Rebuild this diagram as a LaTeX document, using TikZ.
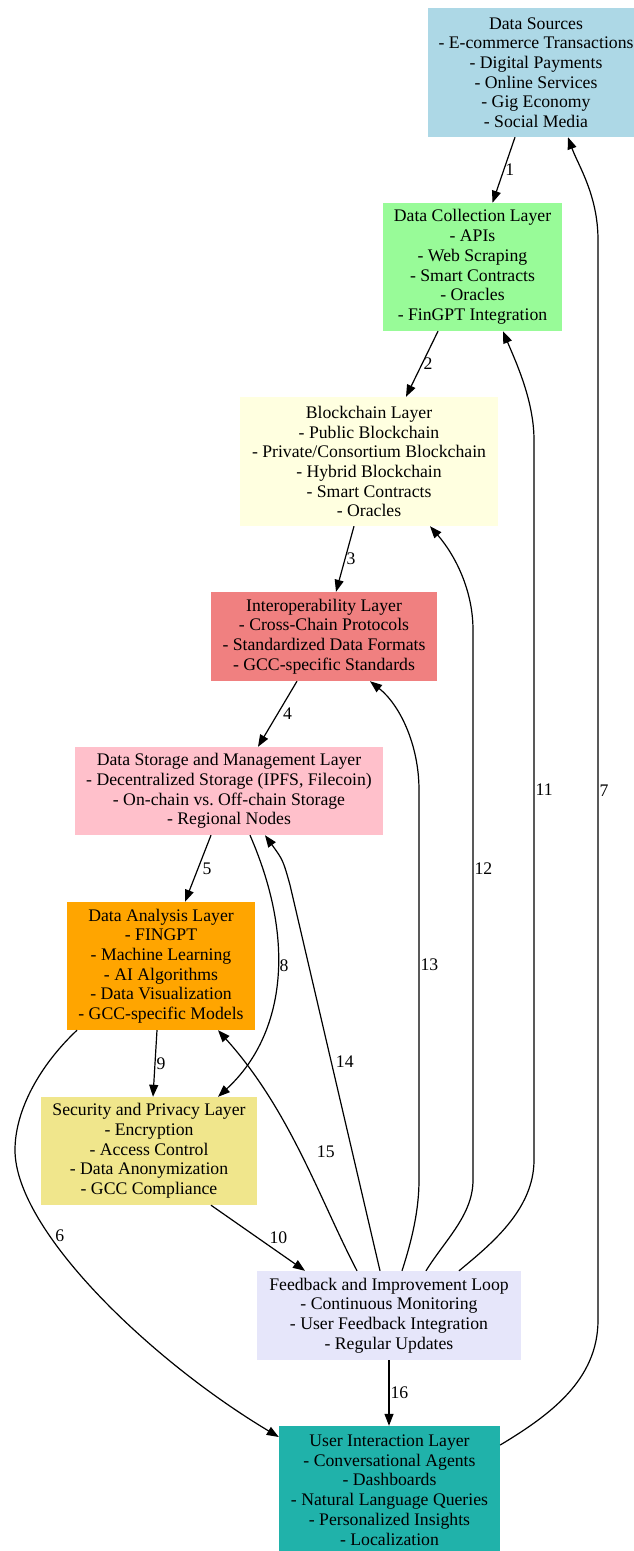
\documentclass[tikz,border=0pt]{standalone}
\usepackage{fontspec}
\setmainfont{Liberation Serif}
\usetikzlibrary{arrows.meta}
\definecolor{SrcBlue}{HTML}{ADD8E6}
\definecolor{CollGreen}{HTML}{98FB98}
\definecolor{ChainYellow}{HTML}{FFFFE0}
\definecolor{InterRed}{HTML}{F08080}
\definecolor{StorePink}{HTML}{FFC0CB}
\definecolor{AnalOrange}{HTML}{FFA500}
\definecolor{SecKhaki}{HTML}{F0E68C}
\definecolor{FbLavender}{HTML}{E6E6FA}
\definecolor{UiTeal}{HTML}{20B2AA}

\begin{document}
\begin{tikzpicture}[
    x=1pt, y=-1pt,
    layer/.style={rectangle, inner sep=0pt, align=center, font=\fontsize{17.7}{19.7}\selectfont},
    num/.style={anchor=west, inner sep=1pt, font=\fontsize{17.7}{19.7}\selectfont},
    flow/.style={-{Triangle[length=12pt,width=9pt]}, line width=1.2pt}
 ]
\useasboundingbox (0,0) rectangle (633,1551);

\node[layer, fill=SrcBlue, minimum width=216pt, minimum height=129pt] (src) at (536,72.5)
    {Data Sources\\- E-commerce Transactions\\- Digital Payments\\- Online Services\\- Gig Economy\\- Social Media};
\node[layer, fill=CollGreen, minimum width=179pt, minimum height=128pt] (coll) at (472.5,267)
    {Data Collection Layer\\- APIs\\- Web Scraping\\- Smart Contracts\\- Oracles\\- FinGPT Integration};
\node[layer, fill=ChainYellow, minimum width=258pt, minimum height=129pt] (chain) at (369,461.5)
    {Blockchain Layer\\- Public Blockchain\\- Private/Consortium Blockchain\\- Hybrid Blockchain\\- Smart Contracts\\- Oracles};
\node[layer, fill=InterRed, minimum width=226pt, minimum height=89pt] (inter) at (324,636.5)
    {Interoperability Layer\\- Cross-Chain Protocols\\- Standardized Data Formats\\- GCC-specific Standards};
\node[layer, fill=StorePink, minimum width=308pt, minimum height=88pt] (store) at (229,791)
    {Data Storage and Management Layer\\- Decentralized Storage (IPFS, Filecoin)\\- On-chain vs.\ Off-chain Storage\\- Regional Nodes};
\node[layer, fill=AnalOrange, minimum width=188pt, minimum height=128pt] (anal) at (161,966)
    {Data Analysis Layer\\- FINGPT\\- Machine Learning\\- AI Algorithms\\- Data Visualization\\- GCC-specific Models};
\node[layer, fill=SecKhaki, minimum width=216pt, minimum height=108pt] (sec) at (149,1151)
    {Security and Privacy Layer\\- Encryption\\- Access Control\\- Data Anonymization\\- GCC Compliance};
\node[layer, fill=FbLavender, minimum width=264pt, minimum height=89pt] (fb) at (389,1315.5)
    {Feedback and Improvement Loop\\- Continuous Monitoring\\- User Feedback Integration\\- Regular Updates};
\node[layer, fill=UiTeal, minimum width=221pt, minimum height=128pt] (ui) at (389.5,1490)
    {User Interaction Layer\\- Conversational Agents\\- Dashboards\\- Natural Language Queries\\- Personalized Insights\\- Localization};

\draw[flow] ([xshift=-21pt]src.south) -- node[num] {1} ([xshift=20pt]coll.north);
\draw[flow] ([xshift=-34.5pt]coll.south) -- node[num] {2} ([xshift=37pt]chain.north);
\draw[flow] ([xshift=-15pt]chain.south) -- node[num] {3} ([xshift=12pt]inter.north);
\draw[flow] ([xshift=-27pt]inter.south) -- node[num, xshift=4pt] {4} ([xshift=29pt]store.north);
\draw[flow] ([xshift=-18pt]store.south) -- node[num, xshift=3pt] {5} ([xshift=24pt]anal.north);
\draw[flow] ([xshift=-84pt]anal.south) .. controls (40,1065) and (15,1110) .. (15,1150)
    .. controls (15,1230) and (150,1360) .. ([yshift=53pt]ui.west) node[num, pos=0.31, xshift=4pt] {6};
\draw[flow] ([yshift=45pt]ui.east) .. controls (550,1415) and (598,1380) .. (598,1320)
    -- node[num, pos=0.49] {7} (598,240) .. controls (598,195) and (578,165) .. ([xshift=32pt]src.south);
\draw[flow] ([xshift=21pt]store.south) .. controls (300,950) and (280,1040) .. ([xshift=69pt]sec.north) node[num, pos=0.42] {8};
\draw[flow] ([xshift=-4pt]anal.south) -- node[num] {9} ([xshift=4pt]sec.north);
\draw[flow] ([xshift=62pt]sec.south) -- node[num, xshift=10pt] {10} ([xshift=-84pt]fb.north);
\draw[flow] ([xshift=70pt]fb.north) .. controls (490,1245) and (534,1210) .. (534,1160)
    -- node[num, pos=0.514] {11} (534,440) .. controls (534,400) and (515,360) .. ([xshift=30.5pt]coll.south);
\draw[flow] ([xshift=37pt]fb.north) .. controls (445,1240) and (473,1215) .. (473,1180)
    -- node[num, pos=0.567] {12} (473,630) .. controls (473,590) and (455,555) .. ([xshift=61pt]chain.south);
\draw[flow] ([xshift=13pt]fb.north) .. controls (412,1240) and (419,1210) .. (419,1180)
    -- node[num, pos=0.551] {13} (419,790) .. controls (419,745) and (400,705) .. ([xshift=46pt]inter.south);
\draw[flow] ([xshift=-9pt]fb.north) -- node[num, pos=0.541, xshift=3pt] {14} (290,885)
    .. controls (283,860) .. ([xshift=36pt]store.south);
\draw[flow] ([xshift=-32pt]fb.north) .. controls (320,1200) and (290,1110) .. ([xshift=57pt]anal.south) node[num, pos=0.51, xshift=16pt] {15};
\draw[flow] (fb.south) -- node[num] {16} (fb.south |- ui.north);

\end{tikzpicture}
\end{document}
